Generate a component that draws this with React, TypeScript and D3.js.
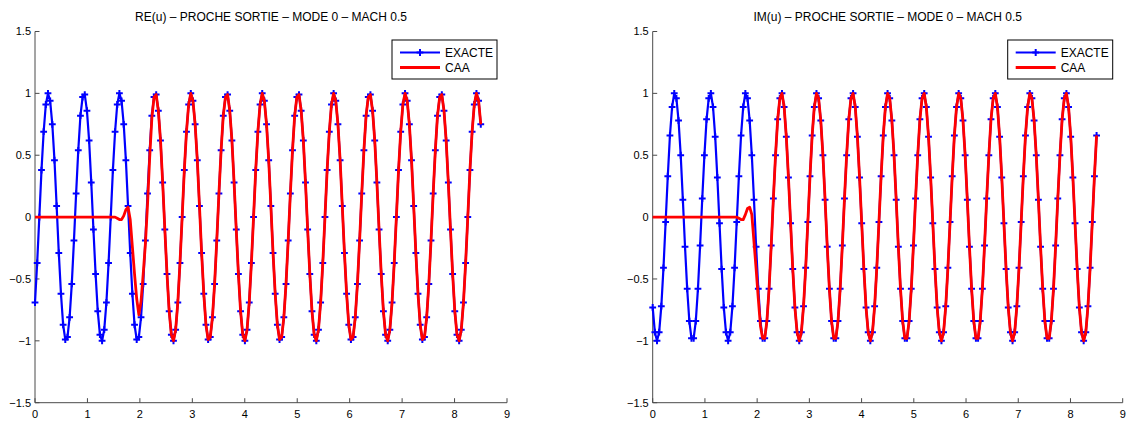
import React from 'react';
import * as d3 from 'd3';

const X_TICKS = [0, 1, 2, 3, 4, 5, 6, 7, 8, 9];
const Y_TICKS = [-1.5, -1, -0.5, 0, 0.5, 1, 1.5];
const LEGEND_LABELS = ['EXACTE', 'CAA'];
const TITLES = [
  'RE(u) – PROCHE SORTIE – MODE 0 – MACH 0.5',
  'IM(u) – PROCHE SORTIE – MODE 0 – MACH 0.5',
];
const X_RANGE = [0, 8.5];

// samples evenly spaced from x = 0 to x = 8.5 (207 samples)
const RE_EXACTE = [
  -0.69,-0.37,0.00,0.38,0.69,0.91,1.00,0.94,0.75,0.46,0.09,-0.29,-0.62,-0.87,-0.99,-0.97,-0.81,-0.54,-0.19,0.19,0.54,0.82,0.97,0.99,0.86,0.62,0.28,-0.10,-0.46,-0.76,-0.95,-1.00,-0.91,
  -0.69,-0.37,0.00,0.38,0.69,0.91,1.00,0.94,0.75,0.46,0.09,-0.29,-0.62,-0.87,-0.99,-0.97,-0.81,-0.54,-0.19,0.19,0.54,0.82,0.97,0.99,0.86,0.62,0.28,-0.10,-0.46,-0.76,-0.95,-1.00,-0.91,
  -0.69,-0.37,0.00,0.38,0.69,0.91,1.00,0.94,0.75,0.46,0.09,-0.29,-0.62,-0.87,-0.99,-0.97,-0.81,-0.54,-0.19,0.19,0.54,0.82,0.97,0.99,0.86,0.62,0.28,-0.10,-0.46,-0.76,-0.95,-1.00,-0.91,
  -0.69,-0.37,0.00,0.38,0.69,0.91,1.00,0.94,0.75,0.46,0.09,-0.29,-0.62,-0.87,-0.99,-0.97,-0.81,-0.54,-0.19,0.19,0.54,0.82,0.97,0.99,0.86,0.62,0.28,-0.10,-0.46,-0.76,-0.95,-1.00,-0.91,
  -0.69,-0.37,0.00,0.38,0.69,0.91,1.00,0.94,0.75,0.46,0.09,-0.29,-0.62,-0.87,-0.99,-0.97,-0.81,-0.54,-0.19,0.19,0.54,0.82,0.97,0.99,0.86,0.62,0.28,-0.10,-0.46,-0.76,-0.95,-1.00,-0.91,
  -0.69,-0.37,0.00,0.38,0.69,0.91,1.00,0.94,0.75,0.46,0.09,-0.29,-0.62,-0.87,-0.99,-0.97,-0.81,-0.54,-0.19,0.19,0.54,0.82,0.97,0.99,0.86,0.62,0.28,-0.10,-0.46,-0.76,-0.95,-1.00,-0.91,
  -0.69,-0.37,0.00,0.38,0.69,0.91,1.00,0.94,0.75,
];

const RE_CAA = [
  0,0,0,0,0,0,0,0,0,0,0,0,0,0,0,0,0,0,0,0,0,0,0,0,0,0,0,0,0,0,0,0,0,0,0,0,0,0,
  -0.01,-0.02,-0.02,0.01,0.06,0.08,-0.02,-0.24,-0.46,-0.66,-0.79,-0.68,-0.46,-0.22,0.10,0.48,0.80,
  0.97,0.99,0.86,0.62,0.28,-0.10,-0.46,-0.76,-0.95,-1.00,-0.91,
  -0.69,-0.37,0.00,0.38,0.69,0.91,1.00,0.94,0.75,0.46,0.09,-0.29,-0.62,-0.87,-0.99,-0.97,-0.81,-0.54,-0.19,0.19,0.54,0.82,0.97,0.99,0.86,0.62,0.28,-0.10,-0.46,-0.76,-0.95,-1.00,-0.91,
  -0.69,-0.37,0.00,0.38,0.69,0.91,1.00,0.94,0.75,0.46,0.09,-0.29,-0.62,-0.87,-0.99,-0.97,-0.81,-0.54,-0.19,0.19,0.54,0.82,0.97,0.99,0.86,0.62,0.28,-0.10,-0.46,-0.76,-0.95,-1.00,-0.91,
  -0.69,-0.37,0.00,0.38,0.69,0.91,1.00,0.94,0.75,0.46,0.09,-0.29,-0.62,-0.87,-0.99,-0.97,-0.81,-0.54,-0.19,0.19,0.54,0.82,0.97,0.99,0.86,0.62,0.28,-0.10,-0.46,-0.76,-0.95,-1.00,-0.91,
  -0.69,-0.37,0.00,0.38,0.69,0.91,1.00,0.94,0.75,0.46,0.09,-0.29,-0.62,-0.87,-0.99,-0.97,-0.81,-0.54,-0.19,0.19,0.54,0.82,0.97,0.99,0.86,0.62,0.28,-0.10,-0.46,-0.76,-0.95,-1.00,-0.91,
  -0.69,-0.37,0.00,0.38,0.69,0.91,1.00,0.94,0.75,
];

const IM_EXACTE = [
  -0.73,-0.93,-1.00,-0.93,-0.72,-0.41,-0.04,0.33,0.66,0.89,1.00,0.96,0.78,0.50,0.14,-0.24,-0.58,-0.84,-0.98,-0.98,-0.84,-0.58,-0.23,0.15,0.50,0.79,0.96,1.00,0.89,0.65,0.32,-0.05,-0.42,
  -0.73,-0.93,-1.00,-0.93,-0.72,-0.41,-0.04,0.33,0.66,0.89,1.00,0.96,0.78,0.50,0.14,-0.24,-0.58,-0.84,-0.98,-0.98,-0.84,-0.58,-0.23,0.15,0.50,0.79,0.96,1.00,0.89,0.65,0.32,-0.05,-0.42,
  -0.73,-0.93,-1.00,-0.93,-0.72,-0.41,-0.04,0.33,0.66,0.89,1.00,0.96,0.78,0.50,0.14,-0.24,-0.58,-0.84,-0.98,-0.98,-0.84,-0.58,-0.23,0.15,0.50,0.79,0.96,1.00,0.89,0.65,0.32,-0.05,-0.42,
  -0.73,-0.93,-1.00,-0.93,-0.72,-0.41,-0.04,0.33,0.66,0.89,1.00,0.96,0.78,0.50,0.14,-0.24,-0.58,-0.84,-0.98,-0.98,-0.84,-0.58,-0.23,0.15,0.50,0.79,0.96,1.00,0.89,0.65,0.32,-0.05,-0.42,
  -0.73,-0.93,-1.00,-0.93,-0.72,-0.41,-0.04,0.33,0.66,0.89,1.00,0.96,0.78,0.50,0.14,-0.24,-0.58,-0.84,-0.98,-0.98,-0.84,-0.58,-0.23,0.15,0.50,0.79,0.96,1.00,0.89,0.65,0.32,-0.05,-0.42,
  -0.73,-0.93,-1.00,-0.93,-0.72,-0.41,-0.04,0.33,0.66,0.89,1.00,0.96,0.78,0.50,0.14,-0.24,-0.58,-0.84,-0.98,-0.98,-0.84,-0.58,-0.23,0.15,0.50,0.79,0.96,1.00,0.89,0.65,0.32,-0.05,-0.42,
  -0.73,-0.93,-1.00,-0.93,-0.72,-0.41,-0.04,0.33,0.66,
];

const IM_CAA = [
  0,0,0,0,0,0,0,0,0,0,0,0,0,0,0,0,0,0,0,0,0,0,0,0,0,0,0,0,0,0,0,0,0,0,0,0,0,0,0,0,
  -0.01,-0.02,-0.02,0.02,0.07,0.08,0.02,-0.20,-0.42,-0.66,-0.88,-0.98,
  -0.98,-0.84,-0.58,-0.23,0.15,0.50,0.79,0.96,1.00,0.89,0.65,0.32,-0.05,-0.42,
  -0.73,-0.93,-1.00,-0.93,-0.72,-0.41,-0.04,0.33,0.66,0.89,1.00,0.96,0.78,0.50,0.14,-0.24,-0.58,-0.84,-0.98,-0.98,-0.84,-0.58,-0.23,0.15,0.50,0.79,0.96,1.00,0.89,0.65,0.32,-0.05,-0.42,
  -0.73,-0.93,-1.00,-0.93,-0.72,-0.41,-0.04,0.33,0.66,0.89,1.00,0.96,0.78,0.50,0.14,-0.24,-0.58,-0.84,-0.98,-0.98,-0.84,-0.58,-0.23,0.15,0.50,0.79,0.96,1.00,0.89,0.65,0.32,-0.05,-0.42,
  -0.73,-0.93,-1.00,-0.93,-0.72,-0.41,-0.04,0.33,0.66,0.89,1.00,0.96,0.78,0.50,0.14,-0.24,-0.58,-0.84,-0.98,-0.98,-0.84,-0.58,-0.23,0.15,0.50,0.79,0.96,1.00,0.89,0.65,0.32,-0.05,-0.42,
  -0.73,-0.93,-1.00,-0.93,-0.72,-0.41,-0.04,0.33,0.66,0.89,1.00,0.96,0.78,0.50,0.14,-0.24,-0.58,-0.84,-0.98,-0.98,-0.84,-0.58,-0.23,0.15,0.50,0.79,0.96,1.00,0.89,0.65,0.32,-0.05,-0.42,
  -0.73,-0.93,-1.00,-0.93,-0.72,-0.41,-0.04,0.33,0.66,
];

const FONT = '"Liberation Sans", Arial, Helvetica, sans-serif';
const BLUE = '#0000ff';
const RED = '#ff0000';
const AXIS = '#4a4a4a';

type PanelProps = {
  left: number;
  right: number;
  title: string;
  exacte: number[];
  caa: number[];
};

const TOP = 31.5;
const BOTTOM = 402.7;

function fmt(v: number) {
  return String(v).replace('-', '\u2212');
}

function Plus({ x, y, color }: { x: number; y: number; color: string }) {
  const s = 3.4;
  return (
    <path
      d={`M${x - s},${y}H${x + s}M${x},${y - s}V${y + s}`}
      stroke={color}
      strokeWidth={2}
      fill="none"
    />
  );
}

function Panel({ left, right, title, exacte, caa }: PanelProps) {
  const x = d3.scaleLinear().domain([0, 9]).range([left, right]);
  const y = d3.scaleLinear().domain([-1.5, 1.5]).range([BOTTOM, TOP]);
  const idx = (n: number) =>
    d3.scaleLinear().domain([0, n - 1]).range(X_RANGE);
  const ie = idx(exacte.length);
  const ic = idx(caa.length);
  const lineE = d3
    .line<number>()
    .x((_, i) => x(ie(i)))
    .y((d) => y(d));
  const lineC = d3
    .line<number>()
    .x((_, i) => x(ic(i)))
    .y((d) => y(d));
  const legR = right - 10;
  const legL = legR - 105;
  const legT = 40;
  const legH = 39;
  return (
    <g>
      <text
        x={(left + right) / 2}
        y={21}
        textAnchor="middle"
        fontSize={12}
        fontFamily={FONT}
        fill="#000"
      >
        {title}
      </text>
      {/* axes */}
      <path
        d={`M${left},${TOP}V${BOTTOM}H${right}`}
        stroke={AXIS}
        strokeWidth={1}
        fill="none"
      />
      {Y_TICKS.map((t) => (
        <g key={'y' + t}>
          <line x1={left} x2={left + 4.5} y1={y(t)} y2={y(t)} stroke={AXIS} />
          <text
            x={left - 4}
            y={y(t)}
            dy="0.35em"
            textAnchor="end"
            fontSize={11}
            fontFamily={FONT}
            fill="#000"
          >
            {fmt(t)}
          </text>
        </g>
      ))}
      {X_TICKS.map((t) => (
        <g key={'x' + t}>
          <line x1={x(t)} x2={x(t)} y1={BOTTOM} y2={BOTTOM - 4.5} stroke={AXIS} />
          <text
            x={x(t)}
            y={BOTTOM + 15}
            textAnchor="middle"
            fontSize={11}
            fontFamily={FONT}
            fill="#000"
          >
            {fmt(t)}
          </text>
        </g>
      ))}
      {/* EXACTE */}
      <path d={lineE(exacte) || ''} stroke={BLUE} strokeWidth={2.2} fill="none" strokeLinejoin="round" />
      {exacte.map((d, i) => (
        <Plus key={i} x={x(ie(i))} y={y(d)} color={BLUE} />
      ))}
      {/* CAA */}
      <path d={lineC(caa) || ''} stroke={RED} strokeWidth={2.8} fill="none" strokeLinejoin="round" />
      {/* legend */}
      <rect x={legL} y={legT} width={105} height={legH} fill="#fff" stroke="#000" strokeWidth={1} />
      {LEGEND_LABELS.map((lab, k) => {
        const ly = legT + 12.5 + k * 15;
        const color = k === 0 ? BLUE : RED;
        return (
          <g key={lab}>
            <line x1={legL + 8} x2={legL + 48} y1={ly} y2={ly} stroke={color} strokeWidth={k === 0 ? 2.2 : 2.8} />
            {k === 0 && <Plus x={legL + 28} y={ly} color={BLUE} />}
            <text x={legL + 53} y={ly} dy="0.35em" fontSize={12} fontFamily={FONT} fill="#000">
              {lab}
            </text>
          </g>
        );
      })}
    </g>
  );
}

export default function App() {
  return (
    <svg
      width={1129}
      height={422}
      style={{ position: 'absolute', left: 0, top: 0, background: '#fff' }}
    >
      <rect x={0} y={0} width={1129} height={422} fill="#fff" />
      <Panel left={35} right={507} title={TITLES[0]} exacte={RE_EXACTE} caa={RE_CAA} />
      <Panel left={652.7} right={1122.7} title={TITLES[1]} exacte={IM_EXACTE} caa={IM_CAA} />
    </svg>
  );
}
